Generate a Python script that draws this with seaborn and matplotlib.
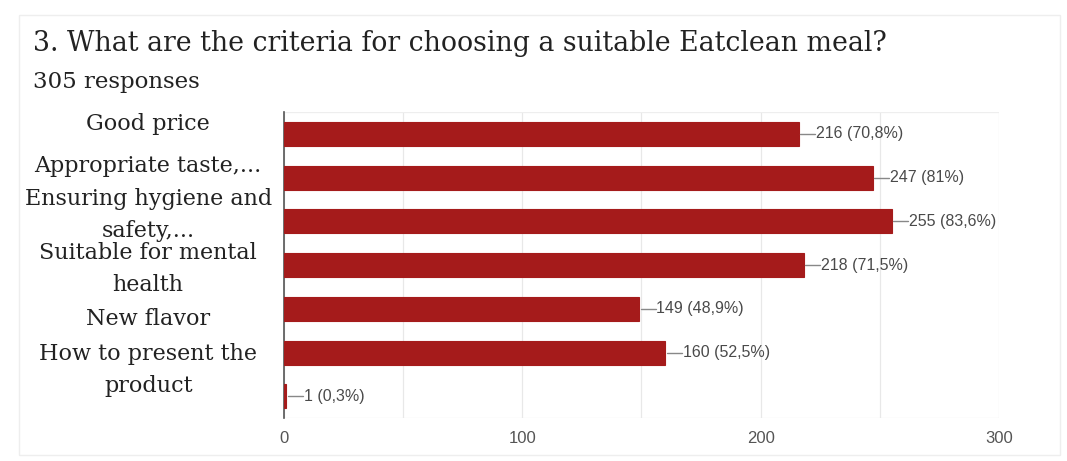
import matplotlib
matplotlib.use("Agg")
import matplotlib.pyplot as plt
import seaborn as sns
import pandas as pd
from matplotlib.patches import Rectangle
from matplotlib.ticker import MultipleLocator

# Survey answers
categories = [
    "Good price",
    "Appropriate taste,...",
    "Ensuring hygiene and\nsafety,...",
    "Suitable for mental\nhealth",
    "New flavor",
    "How to present the\nproduct",
    "",
]
counts = [216, 247, 255, 218, 149, 160, 1]
percents = ["70,8%", "81%", "83,6%", "71,5%", "48,9%", "52,5%", "0,3%"]
label_shift = [-0.23, -0.27, -0.15, 0.09, 0.23, 0.40, 0.0]
x_ticks = [0, 100, 200, 300]

title = "3. What are the criteria for choosing a suitable Eatclean meal?"
subtitle = "305 responses"

bar_color = "#a51b1b"

sns.set_theme(style="white")
plt.rcParams["font.family"] = ["Liberation Sans", "DejaVu Sans"]

df = pd.DataFrame({"pos": range(len(counts)), "count": counts})

fig = plt.figure(figsize=(10.67, 4.61), dpi=100)
ax = fig.add_axes([0.2662, 0.093, 0.670, 0.664])

sns.barplot(data=df, x="count", y="pos", orient="h", order=list(range(len(counts))),
            color=bar_color, saturation=1, width=0.55, ax=ax, zorder=3,
            edgecolor=bar_color, linewidth=0.8)

ax.set_xlim(0, 300)
ax.set_ylim(len(counts) - 0.5, -0.5)
ax.xaxis.set_minor_locator(MultipleLocator(50))
ax.set_xticks(x_ticks)
ax.grid(True, axis="x", which="both", color="#e8e8e8", linewidth=0.9, zorder=0)
ax.grid(False, axis="y")
ax.tick_params(axis="x", which="both", length=0, labelsize=12, labelcolor="#555555", pad=9)
ax.set_yticks([])
ax.set_xlabel("")
ax.set_ylabel("")
for side in ["top", "right", "bottom"]:
    ax.spines[side].set_visible(False)
ax.spines["left"].set_color("#555555")
ax.spines["left"].set_linewidth(1.2)
ax.spines["left"].set_zorder(2)
ax.axhline(-0.5, color="#eeeeee", linewidth=0.9, zorder=1)
ax.axhline(len(counts) - 0.5, color="#e8e8e8", linewidth=0.9, zorder=1)

# value annotations with short leader lines
for i, (c, p) in enumerate(zip(counts, percents)):
    ax.plot([c + 0.6, c + 7], [i, i], color="#888888", linewidth=1.0, zorder=4, clip_on=False)
    ax.text(c + 7.3, i, f"{c} ({p})", va="center", ha="left", fontsize=11.5,
            color="#4a4a4a", zorder=4)

# category labels
for i, (name, dy) in enumerate(zip(categories, label_shift)):
    if name:
        ax.text(-0.19, i + dy, name, transform=ax.get_yaxis_transform(),
                ha="center", va="center", fontsize=16, family="DejaVu Serif",
                color="#222222", linespacing=1.6)

fig.text(0.031, 0.905, title, fontsize=19.3, family="DejaVu Serif", color="#222222",
         ha="left", va="center")
fig.text(0.031, 0.822, subtitle, fontsize=16.5, family="DejaVu Serif", color="#222222",
         ha="left", va="center")

fig.patches.append(Rectangle((0.018, 0.012), 0.975, 0.955, transform=fig.transFigure,
                             fill=False, edgecolor="#eeeeee", linewidth=1))

fig.savefig("out.png", dpi=100, facecolor="white")
